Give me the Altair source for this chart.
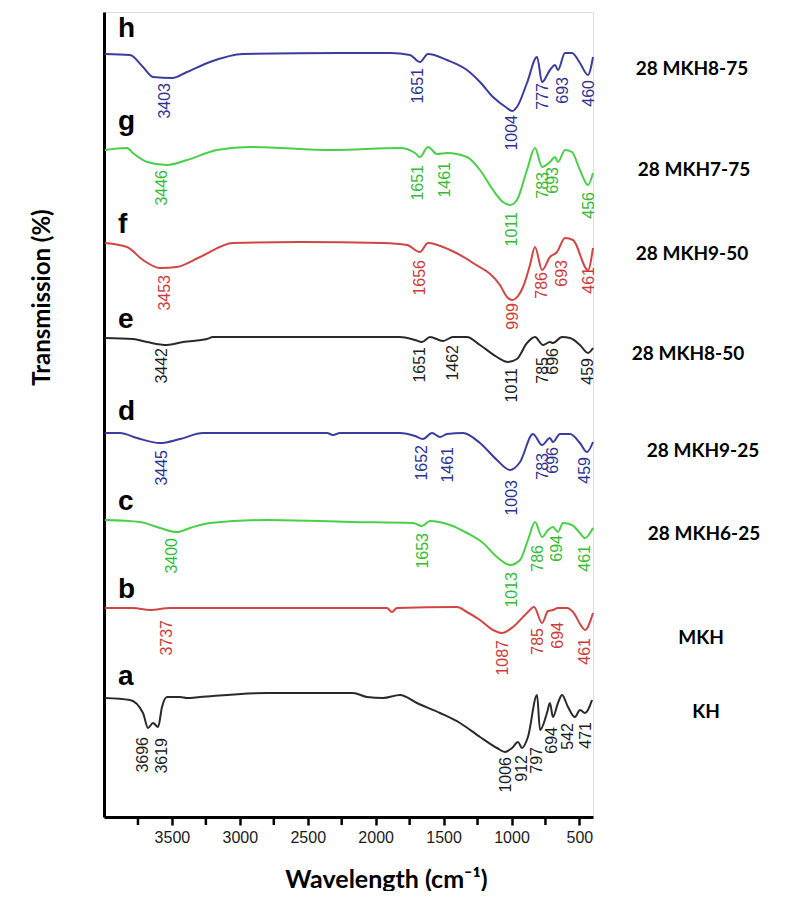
import altair as alt
import pandas as pd

# ---- spectra: wavenumber (cm-1) and stacked transmission (arbitrary units) ----
a_wn = [3993, 3809, 3713, 3676, 3639, 3602, 3573, 3536, 3440, 3389, 3293, 2800, 2167, 2064, 1946, 1821, 1696, 1526, 1379, 1232, 1107, 1048, 996, 952, 923, 879, 812, 790, 739, 717, 695, 658, 628, 584, 533, 496, 459, 407]
a_T = [119, 117, 104, 89, 94, 90, 110, 120, 120, 119, 120, 124, 124, 120, 119, 122, 114, 104, 94, 80, 69, 65, 69, 75, 69, 80, 122, 87, 104, 114, 100, 114, 122, 110, 100, 107, 104, 117]

b_wn = [3993, 3787, 3661, 3514, 1917, 1880, 1843, 1401, 1328, 1232, 1136, 1070, 989, 886, 834, 775, 731, 695, 658, 592, 547, 481, 459, 400]
b_T = [209, 209, 207, 209, 209, 205, 209, 210, 205, 197, 187, 184, 190, 204, 210, 194, 206, 207, 209, 209, 205, 190, 187, 204]

c_wn = [3993, 3735, 3588, 3463, 3367, 3220, 2800, 2189, 1725, 1659, 1600, 1453, 1328, 1210, 1107, 1011, 937, 879, 827, 775, 731, 695, 658, 621, 555, 496, 459, 400]
c_T = [297, 295, 289, 285, 289, 294, 297, 295, 294, 291, 296, 292, 284, 274, 260, 252, 257, 277, 295, 280, 287, 290, 285, 294, 292, 284, 279, 289]

d_wn = [3993, 3882, 3757, 3588, 3440, 3271, 2358, 2314, 2263, 1821, 1710, 1652, 1585, 1526, 1475, 1357, 1232, 1107, 1011, 937, 842, 775, 717, 695, 643, 569, 496, 444, 400]
d_T = [384, 384, 379, 374, 378, 384, 384, 382, 384, 384, 381, 378, 384, 380, 383, 384, 374, 357, 347, 355, 383, 372, 379, 375, 383, 383, 374, 365, 375]

e_wn = [3993, 3787, 3683, 3536, 3418, 3242, 3198, 1821, 1710, 1659, 1600, 1504, 1431, 1328, 1232, 1107, 1026, 960, 886, 827, 768, 717, 695, 628, 569, 496, 437, 400]
e_T = [479, 478, 475, 472, 475, 478, 480, 480, 477, 475, 480, 476, 480, 480, 472, 460, 455, 458, 474, 480, 472, 475, 474, 480, 479, 472, 464, 469]

f_wn = [3993, 3831, 3713, 3588, 3463, 3293, 3050, 2557, 1946, 1769, 1674, 1615, 1453, 1283, 1085, 1033, 996, 952, 915, 864, 827, 775, 717, 665, 606, 547, 437, 400]
f_T = [574, 570, 557, 549, 550, 560, 574, 575, 574, 572, 565, 574, 567, 554, 532, 520, 517, 521, 530, 552, 570, 547, 560, 565, 579, 577, 547, 569]

g_wn = [3993, 3831, 3787, 3683, 3536, 3389, 3168, 2925, 2314, 1821, 1710, 1674, 1615, 1548, 1475, 1328, 1232, 1136, 1063, 1011, 960, 886, 827, 775, 717, 680, 658, 606, 555, 496, 437, 400]
g_T = [667, 669, 664, 655, 652, 657, 667, 670, 667, 669, 664, 660, 670, 663, 664, 660, 647, 627, 615, 612, 617, 647, 669, 650, 655, 660, 655, 667, 665, 647, 632, 644]

h_wn = [3993, 3809, 3713, 3639, 3499, 3389, 3220, 2977, 2263, 1894, 1747, 1674, 1615, 1475, 1328, 1232, 1136, 1033, 996, 960, 886, 812, 775, 717, 680, 658, 606, 555, 496, 437, 400]
h_T = [763, 762, 750, 740, 739, 745, 755, 763, 764, 764, 762, 755, 763, 757, 747, 735, 720, 709, 706, 710, 734, 760, 735, 747, 752, 747, 764, 764, 754, 742, 760]

spectra = {"a": (a_wn, a_T), "b": (b_wn, b_T), "c": (c_wn, c_T), "d": (d_wn, d_T),
           "e": (e_wn, e_T), "f": (f_wn, f_T), "g": (g_wn, g_T), "h": (h_wn, h_T)}

trace_ids = ["a", "b", "c", "d", "e", "f", "g", "h"]
trace_colors = ["#2a2a2a", "#d24545", "#48d048", "#3a3d9e", "#2a2a2a", "#d24545", "#48d048", "#3a3d9e"]
label_colors = ["#1e1e1e", "#cc3b3b", "#36bb36", "#2f3390", "#1e1e1e", "#cc3b3b", "#36bb36", "#2f3390"]

# ---- peak annotations: trace, text, wn position, top of text (same units) ----
pk_trace = (["h"] * 6 + ["g"] * 7 + ["f"] * 6 + ["e"] * 7 + ["d"] * 7 + ["c"] * 6 + ["b"] * 5 + ["a"] * 8)
pk_text = ["3403", "1651", "1004", "777", "693", "460",
           "3446", "1651", "1461", "1011", "783", "693", "456",
           "3453", "1656", "999", "786", "693", "461",
           "3442", "1651", "1462", "1011", "785", "696", "459",
           "3445", "1652", "1461", "1003", "783", "696", "459",
           "3400", "1653", "1013", "786", "694", "461",
           "3737", "1087", "785", "694", "461",
           "3696", "3619", "1006", "912", "797", "694", "542", "471"]
pk_wn = [3551, 1688, 996, 768, 621, 429,
         3573, 1688, 1490, 996, 768, 695, 429,
         3551, 1674, 989, 775, 628, 429,
         3573, 1674, 1431, 996, 768, 695, 437,
         3573, 1659, 1467, 996, 768, 695, 459,
         3499, 1652, 996, 805, 665, 459,
         3536, 1063, 805, 658, 459,
         3713, 3573, 1040, 923, 812, 702, 584, 452]
pk_T = [734, 749, 702, 734, 740, 737,
        647, 652, 655, 605, 645, 650, 625,
        542, 557, 514, 545, 557, 550,
        469, 470, 472, 449, 460, 469, 459,
        367, 372, 370, 337, 364, 370, 360,
        279, 284, 245, 272, 282, 272,
        197, 177, 189, 195, 179,
        80, 79, 60, 62, 70, 90, 94, 95]

# ---- trace letters and sample names ----
letter_wn = [3897] * 8
letter_T = [132, 219, 307, 397, 489, 584, 687, 780]
sample_names = ["KH", "MKH", "28 MKH6-25", "28 MKH9-25", "28 MKH8-50", "28 MKH9-50", "28 MKH7-75", "28 MKH8-75"]
sample_T = [105, 179, 283, 366, 463, 563, 647, 748]
sample_px = [602, 597, 600, 599, 584, 588, 590, 588]

major_ticks = [3500, 3000, 2500, 2000, 1500, 1000, 500]
minor_ticks = [3750, 3250, 2750, 2250, 1750, 1250, 750]

rows = []
for t in trace_ids:
    wn, T = spectra[t]
    for i, (w, v) in enumerate(zip(wn, T)):
        rows.append({"trace": t, "wn": w, "T": v, "i": i})
df = pd.DataFrame(rows)

pk = pd.DataFrame({"trace": pk_trace, "text": pk_text, "wn": pk_wn, "T": pk_T})
letters = pd.DataFrame({"trace": trace_ids, "wn": letter_wn, "T": letter_T})
names = pd.DataFrame({"name": sample_names, "T": sample_T, "px": sample_px})
minor = pd.DataFrame({"wn": minor_ticks})

xscale = alt.Scale(domain=[4000, 400], nice=False, zero=False)
yscale = alt.Scale(domain=[0, 805], nice=False, zero=False)

xaxis = alt.Axis(values=major_ticks, format="d", labelOverlap=False, labelFlush=False,
                 ticks=True, tickSize=8, tickWidth=2.5, tickColor="black",
                 domainWidth=3, domainColor="black",
                 labelFont="Liberation Sans", labelFontSize=16, labelColor="#1a1a1a", labelPadding=4,
                 grid=False, title="Wavelength (cm⁻¹)", titleFont="Lato", titleFontSize=25,
                 titleFontWeight="bold", titleColor="black", titleX=282, titleY=70,
                 titleAlign="center", titleBaseline="alphabetic")
yaxis = alt.Axis(labels=False, ticks=False, domainWidth=3, domainColor="black", grid=False,
                 title="Transmission (%)", titleFont="Lato", titleFontSize=24, titleFontWeight="bold",
                 titleColor="black", titleX=-62, titleY=285, titleAlign="center",
                 titleBaseline="middle", titleAngle=270)

lines = alt.Chart(df).mark_line(strokeWidth=2, interpolate="monotone").encode(
    x=alt.X("wn:Q", scale=xscale, axis=xaxis),
    y=alt.Y("T:Q", scale=yscale, axis=yaxis),
    detail="trace:N",
    order="i:Q",
    color=alt.Color("trace:N", scale=alt.Scale(domain=trace_ids, range=trace_colors), legend=None),
)

minor_marks = alt.Chart(minor).mark_rule(color="black", strokeWidth=2.5).encode(
    x=alt.X("wn:Q", scale=xscale),
    y=alt.value(806),
    y2=alt.value(813),
)

peaks = alt.Chart(pk).mark_text(angle=270, align="right", baseline="middle",
                                font="Liberation Sans", fontSize=16).encode(
    x=alt.X("wn:Q", scale=xscale),
    y=alt.Y("T:Q", scale=yscale),
    text="text:N",
    color=alt.Color("trace:N", scale=alt.Scale(domain=trace_ids, range=label_colors), legend=None),
)

letter_marks = alt.Chart(letters).mark_text(align="left", baseline="alphabetic", font="Liberation Sans",
                                            fontSize=28, fontWeight="bold", color="black").encode(
    x=alt.X("wn:Q", scale=xscale),
    y=alt.Y("T:Q", scale=yscale),
    text="trace:N",
)

name_marks = alt.Chart(names).mark_text(align="center", baseline="middle", font="Lato",
                                        fontSize=19, fontWeight="bold", color="black").encode(
    x=alt.X("px:Q", scale=None),
    y=alt.Y("T:Q", scale=yscale),
    text="name:N",
)

chart = alt.layer(lines, minor_marks, peaks, letter_marks, name_marks).resolve_scale(
    color="independent"
).properties(
    width=489, height=805, autosize="none",
    padding={"left": 96, "top": 4, "right": 203, "bottom": 74},
).configure_view(stroke=None).configure(background="white")

chart.save("out.html", embed_options={"renderer": "svg", "actions": False})
